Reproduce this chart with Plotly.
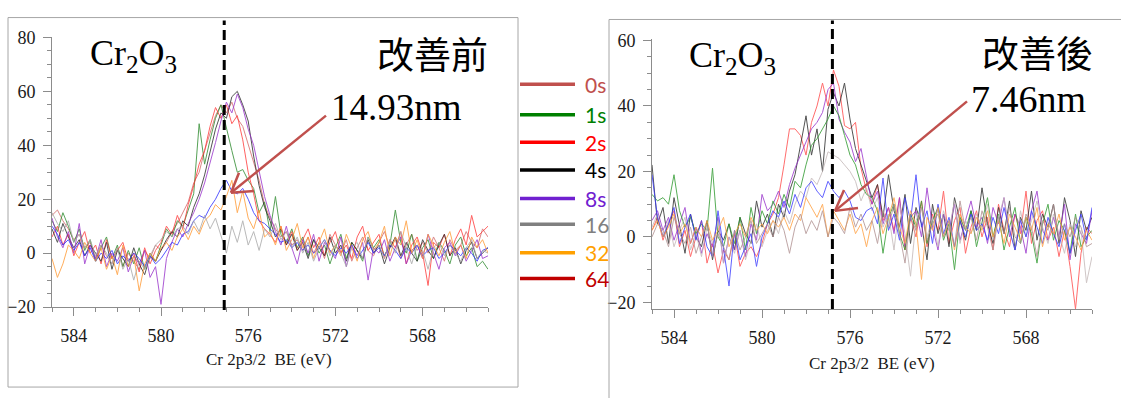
import plotly.graph_objects as go

W, H = 1121, 398

# ---------------- data ----------------
BE = [round(585 - 0.25 * i, 2) for i in range(81)]  # binding energy grid (eV)

# Before improvement (改善前)
B_0S = [14, 16, 12, 9, 5, 7, 2, 4, -2, 3, -1, -4, 2, -5, 0, -3, -6, 1, -2, 3,
        1, 4, 8, 11, 15, 19, 26, 30, 38, 45, 51, 55, 52, 56, 50, 47, 40, 33, 27, 18,
        13, 9, 6, 8, 3, 5, 1, 6, 0, 4, -2, 7, 3, 0, 5, -3, 2, 6, 1, -1,
        4, 8, 2, 5, -2, 3, 7, 1, 4, 0, 6, 2, -3, 5, 1, 3, 8, 4, 2, 9, 6]
B_1S = [12, 8, 15, 10, 4, 9, 1, 5, -3, 2, 6, -2, 3, -5, 1, -4, 2, -6, 0, -3,
        3, 9, 6, 12, 10, 16, 22, 48, 33, 42, 50, 55, 46, 38, 30, 31, 27, 24, 15, 19,
        8, 21, 7, 4, 9, 2, 6, -1, 5, 0, 3, -4, 2, 7, -2, 4, 1, -3, 6, 2,
        5, -1, 3, 16, 4, 0, 7, -3, 2, 5, -2, 4, 1, -4, 3, 6, -1, 2, -5, -3, -6]
B_2S = [6, 10, 3, 7, -1, 4, 8, 0, 3, -4, 5, -2, 1, 4, -3, 0, -7, 2, -4, 1,
        4, 10, 7, 14, 9, 18, 25, 33, 38, 47, 54, 50, 55, 48, 51, 42, 30, 22, 12, 9,
        7, 4, 10, 3, 8, 1, 5, 9, 2, 6, -1, 4, 8, 0, 3, -2, 6, 10, 1, 4,
        7, -2, 5, 2, 8, -4, 3, 6, 0, -12, 4, 2, 7, -1, 5, 9, 3, 14, 6, 8, 10]
B_4S = [9, 4, 11, 6, 2, 5, -1, 3, 0, -3, 4, -6, 1, -2, -5, 2, -4, -8, -1, -3,
        1, 5, 8, 6, 12, 10, 17, 22, 29, 37, 46, 52, 50, 58, 60, 55, 49, 36, 25, 17,
        12, 6, 9, 3, 7, 1, 4, -2, 5, 2, -1, 6, 0, 3, -3, 4, 1, -2, 5, 0,
        3, -4, 2, 6, -1, 4, 0, -3, 5, 1, -2, 3, 7, -1, 2, -4, 1, 4, -2, 0, 2]
B_8S = [13, 6, 2, 8, 0, 11, -4, 3, -2, 5, -5, 0, -3, 2, -7, -1, -4, 1, -9, -5,
        -19, -2, 4, 9, 6, 11, 15, 20, 26, 33, 41, 49, 56, 52, 59, 54, 46, 40, 30, 21,
        14, 8, 3, 10, 2, -4, 5, 0, 7, -3, 4, 1, -2, 6, -5, 3, -1, 4, -10, 2,
        0, 5, -3, 2, 6, -4, 1, 3, -2, 7, 0, -6, 2, 4, -1, 3, -3, 1, 5, -2, -1]
B_16S = [10, 7, 3, 5, 1, 4, -1, 2, -3, 0, -2, 1, -4, -1, -3, 0, -2, -5, -1, -4,
         -2, 1, 4, 3, 7, 8, 12, 14, 13, 17, 20, 24, 27, 23, 22, 24, 20, 15, 12, 11,
         9, 7, 4, 5, 2, 4, 1, 3, 0, 2, 5, 1, -1, 2, 0, 3, -2, 1, 4, 0,
         2, -1, 3, 1, -2, 2, 0, 3, -1, 1, 2, -2, 0, 3, 1, -1, 2, 0, -3, 1, 2]
B_32S = [-2, -9, -4, 3, 1, -2, 4, 0, -3, 2, -6, -1, -8, 3, -5, -1, -14, -4, 0, -3,
         2, 4, 1, 6, 9, 5, 10, 7, 12, 14, 18, 16, 21, 27, 15, 23, 13, 9, 16, 6,
         8, 3, 10, 1, 5, 11, 2, 6, -2, 4, 9, 0, 3, -1, 7, 2, -3, 5, 8, 1,
         4, 10, -1, 6, 3, 12, 0, 5, -2, 7, 3, -1, 4, 8, 0, 3, -2, 6, 2, 5, 0]
B_64S = [15, 11, 8, 12, 4, 7, 2, 5, -1, 3, 0, -4, 2, -6, -2, -10, -3, -6, -1, 3,
         5, 8, 6, 9, 10, 7, 12, 8, 14, 9, 13, 6, 0, 10, 4, 12, 3, 8, 1, 9,
         6, 11, 5, 8, 2, 6, 0, 4, -3, 2, 5, -1, 3, 0, -5, 2, 4, -2, 6, 1,
         3, -2, 5, 0, 8, 2, -4, 3, 1, -6, 2, 4, -1, 3, 0, -3, 2, 5, -2, 1, 0]

# After improvement (改善後)
A_0S = [2, 6, -1, 4, 8, -3, 2, -6, 0, 5, -8, -2, -11, -4, -7, 1, -9, -5, -3, -6,
        -2, 4, 7, 12, 22, 33, 33, 31, 25, 35, 40, 47, 40, 51, 46, 34, 33, 35, 21, 14,
        10, 16, 5, 9, 2, 12, -4, 6, 0, 11, -3, 7, 2, 14, -2, 5, 9, -5, 3, 8,
        0, 6, -4, 10, 2, -3, 7, 1, 14, -2, 5, 8, -1, 3, -6, 2, -9, -22, -5, 3, 1]
A_1S = [22, 4, 9, -2, 12, 3, -5, 7, 0, -3, 5, -7, 2, -1, 4, -4, 6, 1, -2, 11,
        3, 7, 0, 10, 6, 14, 19, 28, 37, 25, 33, 20, 39, 44, 40, 47, 36, 27, 22, 17,
        12, 16, 6, 19, 8, 3, 13, -2, 9, 4, -7, 10, 1, 7, -3, 12, 5, -1, 8, 2,
        15, 4, -2, 9, 1, 11, -4, 6, 2, 14, -1, 7, 3, 10, -2, 12, 5, -6, 8, 2, 6]
A_2S = [5, 8, 2, 6, -1, 4, 9, -2, 3, -5, 1, -3, 6, -8, 0, -4, 2, -6, 4, -1,
        13, 8, 10, 14, 9, 16, 21, 25, 29, 33, 35, 38, 45, 47, 36, 32, 29, 23, 27, 18,
        10, 14, 4, 9, 1, 12, -3, 6, 8, 0, 15, 3, -4, 7, 2, 10, -1, 5, 11, 3,
        6, -2, 9, 4, 12, 0, 7, 3, -5, 8, 14, 2, -1, 6, 0, 10, -7, 4, 1, -2, 8]
A_4S = [13, 11, 12, 10, 19, 8, 3, 6, 1, 4, 2, 21, 0, -3, 4, -2, 6, -4, 9, 1,
        8, 4, 11, 7, 13, 9, 17, 15, 22, 28, 30, 33, 36, 40, 37, 31, 25, 22, 16, 13,
        12, 8, -5, 6, 10, 1, -4, 7, 3, 11, -2, 5, 9, -1, 4, -10, 6, 2, 8, -3,
        5, 12, 0, 7, -4, 3, 9, -2, 6, 1, -8, 4, 10, -1, 5, 2, -5, 7, -3, 0, 2]
A_8S = [3, 7, 0, 5, -3, 2, 6, -4, 1, -6, 3, -2, 5, -8, 0, -5, 2, -7, -1, 4,
        -3, 2, 5, 1, 8, 4, 10, 14, 12, 18, 16, 20, 26, 25, 24, 22, 20, 17, 11, 15,
        8, 12, 3, 7, -4, 10, 1, -12, 5, 9, 0, 6, -3, 8, 2, 11, -2, 5, 1, 7,
        3, 10, -1, 6, 12, 2, -4, 8, 0, 5, 11, 3, -2, 7, 1, -5, 4, -3, 2, -14, -6]
A_16S = [19, 6, 0, 4, 9, -2, 3, 7, -1, 5, -3, -6, 8, -4, -15, 2, -7, -3, 1, -9,
         0, 4, 8, 6, 11, 7, 13, 9, 15, 17, 14, 12, 17, 14, 12, 14, 11, 6, 5, 8,
         9, 4, 18, 2, 7, -1, 12, 5, 19, 3, 8, -2, 10, 1, 6, -3, 5, 0, 7, 2,
         4, -1, 6, 1, 9, 2, -4, 5, 0, 8, 3, -2, 6, 1, -3, 4, -5, 2, 7, -1, 9]
A_32S = [2, 5, 0, 3, 7, 1, 4, -2, 3, 0, 5, -1, 2, 6, -3, 1, 4, 0, 6, 2,
         4, 1, 5, 3, 6, 2, 7, 5, 12, 9, 6, 10, 0, 8, 5, 2, 7, 1, 4, -3,
         5, 9, 1, 6, 12, 3, -2, 8, 4, -13, 6, 2, 9, 0, 5, -4, 7, 3, 1, 6,
         2, 8, 0, 5, -2, 7, 3, -1, 6, 2, 9, -3, 4, 1, 7, -1, 3, 0, -4, 2, -1]
A_64S = [0, 4, 2, -3, 6, 1, -2, 3, -5, 0, 4, -6, 1, -3, -7, 2, -4, 0, 5, -2,
         1, 4, 0, 6, 2, -5, 3, 7, 1, 5, 2, 8, 0, 6, 4, 1, 9, 3, 7, 2,
         5, -2, 8, 3, 10, 1, -8, 6, 2, 9, -1, 4, 7, 0, 5, -3, 11, 2, 6, -1,
         8, 3, -4, 6, 1, 9, 0, -2, 7, 3, -6, 5, 2, 10, -1, 4, 0, 6, 3, -3, -2]

BEFORE = [B_0S, B_1S, B_2S, B_4S, B_8S, B_16S, B_32S, B_64S]
AFTER = [A_0S, A_1S, A_2S, A_4S, A_8S, A_16S, A_32S, A_64S]
BEFORE_COLORS = ["#d46a6a", "#2e8b2e", "#ff3b3b", "#2a2a2a", "#9932cc", "#2f2fff", "#ff9a33", "#a8a8a8"]
AFTER_COLORS = ["#ff4a4a", "#2a2a2a", "#9932cc", "#2e9a2e", "#c4b8b8", "#3a3aff", "#ffa040", "#b09090"]

LEGEND_LABELS = ["0s", "1s", "2s", "4s", "8s", "16", "32", "64"]
LEGEND_COLORS = ["#c0504d", "#008000", "#ff0000", "#000000", "#7020d0", "#808080", "#ffa000", "#c00000"]

DASH_BE = [577.1, 576.8]          # dashed reference lines
TITLES = ["改善前", "改善後"]
DEPTHS = ["14.93nm", "7.46nm"]
X_TITLE = "Cr 2p3/2&nbsp; BE (eV)"


def px(x):
    return x / W


def py(y):
    return 1 - y / H


fig = go.Figure()
for ser, col in zip(BEFORE, BEFORE_COLORS):
    fig.add_trace(go.Scatter(x=BE, y=ser, mode="lines", line=dict(color=col, width=1),
                             opacity=0.8, xaxis="x", yaxis="y", showlegend=False))
for ser, col in zip(AFTER, AFTER_COLORS):
    fig.add_trace(go.Scatter(x=BE, y=ser, mode="lines", line=dict(color=col, width=1),
                             opacity=0.8, xaxis="x2", yaxis="y2", showlegend=False))

SERIF = "Liberation Serif, Times New Roman, serif"
AX = "#8c8c8c"
tickfont = dict(family=SERIF, size=18, color="#1a1a1a")
xcommon = dict(showline=True, linecolor=AX, linewidth=1, ticks="outside", tickcolor=AX, ticklen=8,
               showgrid=False, zeroline=False, tickfont=tickfont, range=[585, 565],
               tick0=0, dtick=4, ticklabelstandoff=4,
               minor=dict(ticks="outside", ticklen=4, tickcolor=AX, dtick=1, showgrid=False))
ycommon = dict(showline=True, linecolor=AX, linewidth=1, ticks="outside", tickcolor=AX, ticklen=8,
               showgrid=False, zeroline=False, tickfont=tickfont, tick0=0, dtick=20,
               ticklabelstandoff=4,
               minor=dict(ticks="outside", ticklen=4, tickcolor=AX, dtick=5, showgrid=False))

fig.update_layout(
    width=W, height=H, margin=dict(l=0, r=0, t=0, b=0),
    font=dict(family=SERIF, size=17, color="#1a1a1a"),
    paper_bgcolor="white", plot_bgcolor="white", showlegend=False,
    xaxis=dict(xcommon, domain=[px(52), px(488)], anchor="y"),
    yaxis=dict(ycommon, domain=[py(313), py(29)], range=[-20, 80.3], anchor="x"),
    xaxis2=dict(xcommon, domain=[px(652), px(1092)], anchor="y2"),
    yaxis2=dict(ycommon, domain=[py(315), py(31)], range=[-22, 60.6], anchor="x2"),
)

shapes = []
# panel frames
shapes.append(dict(type="rect", xref="paper", yref="paper", x0=px(8), x1=px(518), y0=py(397), y1=py(9),
                   line=dict(color="#a6a6a6", width=1)))
shapes.append(dict(type="rect", xref="paper", yref="paper", x0=px(609), x1=px(1130), y0=py(410), y1=py(11),
                   line=dict(color="#a6a6a6", width=1)))
# dashed lines
shapes.append(dict(type="line", xref="x", yref="paper", x0=DASH_BE[0], x1=DASH_BE[0], y0=py(316), y1=py(12),
                   line=dict(color="black", width=3, dash="10px,5px")))
shapes.append(dict(type="line", xref="x2", yref="paper", x0=DASH_BE[1], x1=DASH_BE[1], y0=py(315), y1=py(12),
                   line=dict(color="black", width=3, dash="10px,5px")))
# arrows (pixel positions)
ARROW = "#c0504d"
for tail, tip, arm1, arm2 in [((326, 112), (231, 193), (239, 172), (254, 191)),
                              ((967, 97), (835, 212), (844, 190), (858, 209))]:
    for a in (tail, arm1, arm2):
        shapes.append(dict(type="line", xref="paper", yref="paper", x0=px(a[0]), y0=py(a[1]),
                           x1=px(tip[0]), y1=py(tip[1]), line=dict(color=ARROW, width=2.5)))
# legend swatches
LEG_Y = [79, 111, 140, 169, 199, 226, 256, 283]
for yy, col in zip(LEG_Y, LEGEND_COLORS):
    shapes.append(dict(type="line", xref="paper", yref="paper", x0=px(520), x1=px(575), y0=py(yy), y1=py(yy),
                       line=dict(color=col, width=3.5)))

ann = []
for lab, col, yy in zip(LEGEND_LABELS, LEGEND_COLORS, LEG_Y):
    ann.append(dict(text=lab, x=px(583), y=py(yy), xref="paper", yref="paper", xanchor="left",
                    yanchor="middle", showarrow=False, font=dict(family="Lato", size=21, color=col)))

cjk = "Noto Sans CJK TC"
for cx, cy in [(133, 49), (732, 51)]:
    ann.append(dict(text="Cr<sub>2</sub>O<sub>3</sub>", x=px(cx), y=py(cy), xref="paper", yref="paper",
                    xanchor="center", yanchor="middle", showarrow=False,
                    font=dict(family=SERIF, size=36, color="black")))
for t, cx, cy in [(TITLES[0], 432, 46), (TITLES[1], 1037, 45)]:
    ann.append(dict(text=t, x=px(cx), y=py(cy), xref="paper", yref="paper", xanchor="center",
                    yanchor="middle", showarrow=False, font=dict(family=cjk, size=37, color="black")))
for t, cx, cy, fs in [(DEPTHS[0], 396, 103, 37), (DEPTHS[1], 1028, 95, 38)]:
    ann.append(dict(text=t, x=px(cx), y=py(cy), xref="paper", yref="paper", xanchor="center",
                    yanchor="middle", showarrow=False, font=dict(family=SERIF, size=fs, color="black")))
for cx, cy in [(269, 368), (872, 372)]:
    ann.append(dict(text=X_TITLE, x=px(cx), y=py(cy), xref="paper", yref="paper", xanchor="center",
                    yanchor="middle", showarrow=False, font=dict(family=SERIF, size=17, color="#1a1a1a")))

fig.update_layout(shapes=shapes, annotations=ann)

fig.write_html("out.html", config={"displayModeBar": False},
               post_script="document.body.style.margin='0';")
